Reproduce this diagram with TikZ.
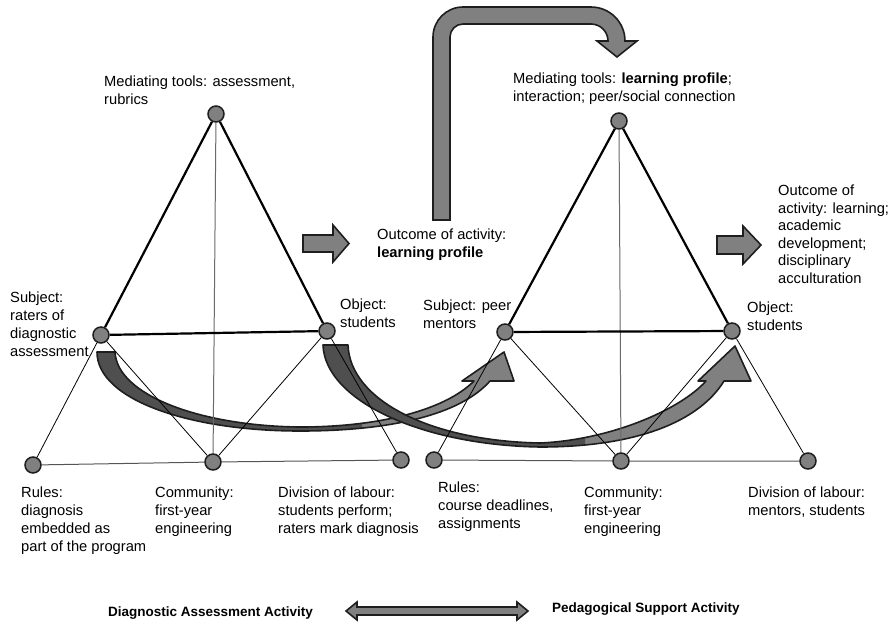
\documentclass[tikz,border=0pt]{standalone}
\usepackage{fontspec}
\setmainfont{Liberation Sans}
\usetikzlibrary{backgrounds}
\definecolor{fillgray}{HTML}{808080}
\definecolor{darkfill}{HTML}{4F4F4F}
\definecolor{ink}{HTML}{1E1E1E}
\definecolor{linegray}{HTML}{6A6A6A}
\newcommand\stack[1]{\begin{tabular}[t]{@{}l@{}}#1\end{tabular}}
\begin{document}
\begin{tikzpicture}[x=1pt,y=-1pt,
  vtx/.style={circle, draw=ink, line width=1.5pt, fill=fillgray, minimum size=16pt, inner sep=0pt},
  side/.style={line width=2.2pt, black},
  spoke/.style={line width=0.8pt, black},
  stem/.style={line width=1pt, linegray},
  base/.style={line width=1pt, linegray!80!black},
  lab/.style={anchor=base west, inner sep=0pt, font=\fontsize{14.7}{18}\selectfont},
  caption/.style={anchor=base west, inner sep=0pt, font=\fontsize{13.5}{16}\selectfont\bfseries},
  blockarrow/.style={fill=fillgray, draw=ink, line width=1.6pt, line join=miter},
  bandline/.style={draw=ink, line width=1.6pt, line join=round}]
\useasboundingbox (0,0) rectangle (894,622);

% activity system 1: diagnostic assessment
\node[vtx] (t1) at (216,114) {};
\node[vtx] (s1) at (101,335) {};
\node[vtx] (o1) at (327,331) {};
\node[vtx] (r1) at (33,465) {};
\node[vtx] (c1) at (213,462) {};
\node[vtx] (d1) at (401,460) {};

% activity system 2: pedagogical support
\node[vtx] (t2) at (619,121) {};
\node[vtx] (s2) at (505,332) {};
\node[vtx] (o2) at (732,331) {};
\node[vtx] (r2) at (434,460) {};
\node[vtx] (c2) at (621,461) {};
\node[vtx] (d2) at (808,461) {};

\begin{scope}[on background layer]
  % curved transfer arrow: subject to subject
  \fill[fillgray] (97,352) .. controls (97,400) and (190,431) .. (300,431) .. controls (390,431) and (460,415) .. (490,381) -- (514,381) -- (504,352) -- (462,381) -- (474,381) .. controls (445,410) and (380,427) .. (300,427) .. controls (200,426) and (117,395) .. (115,352) -- cycle;
  \begin{scope}
    \clip (0,0) rectangle (362,622);
    \fill[darkfill] (97,352) .. controls (97,400) and (190,431) .. (300,431) .. controls (390,431) and (460,415) .. (490,381) -- (514,381) -- (504,352) -- (462,381) -- (474,381) .. controls (445,410) and (380,427) .. (300,427) .. controls (200,426) and (117,395) .. (115,352) -- cycle;
  \end{scope}
  \path[bandline] (97,352) .. controls (97,400) and (190,431) .. (300,431) .. controls (390,431) and (460,415) .. (490,381) -- (514,381) -- (504,352) -- (462,381) -- (474,381) .. controls (445,410) and (380,427) .. (300,427) .. controls (200,426) and (117,395) .. (115,352) -- cycle;

  % curved transfer arrow: object to object
  \fill[fillgray] (323,345) .. controls (325,400) and (420,445) .. (540,447) .. controls (640,447) and (700,420) .. (724,381) -- (751,381) -- (735,346) -- (698,381) -- (706,381) .. controls (680,410) and (610,440) .. (540,443) .. controls (430,441) and (350,400) .. (348,345) -- cycle;
  \begin{scope}
    \clip (0,0) rectangle (585,622);
    \fill[darkfill] (323,345) .. controls (325,400) and (420,445) .. (540,447) .. controls (640,447) and (700,420) .. (724,381) -- (751,381) -- (735,346) -- (698,381) -- (706,381) .. controls (680,410) and (610,440) .. (540,443) .. controls (430,441) and (350,400) .. (348,345) -- cycle;
  \end{scope}
  \path[bandline] (323,345) .. controls (325,400) and (420,445) .. (540,447) .. controls (640,447) and (700,420) .. (724,381) -- (751,381) -- (735,346) -- (698,381) -- (706,381) .. controls (680,410) and (610,440) .. (540,443) .. controls (430,441) and (350,400) .. (348,345) -- cycle;

  % triangle edges, system 1
  \draw[stem] (t1) -- (c1);
  \draw[spoke] (s1) -- (r1);
  \draw[spoke] (s1) -- (c1);
  \draw[spoke] (o1) -- (c1);
  \draw[spoke] (o1) -- (d1);
  \draw[base] (r1) -- (c1) -- (d1);
  \draw[side] (t1) -- (s1);
  \draw[side] (t1) -- (o1);
  \draw[side] (s1) -- (o1);

  % triangle edges, system 2
  \draw[stem] (t2) -- (c2);
  \draw[spoke] (s2) -- (r2);
  \draw[spoke] (s2) -- (c2);
  \draw[spoke] (o2) -- (c2);
  \draw[spoke] (o2) -- (d2);
  \draw[base] (r2) -- (c2) -- (d2);
  \draw[side] (t2) -- (s2);
  \draw[side] (t2) -- (o2);
  \draw[side] (s2) -- (o2);
\end{scope}

% outcome arrows
\path[blockarrow] (303,235) -- (333,235) -- (333,225) -- (349,243.5) -- (333,262) -- (333,252) -- (303,252) -- cycle;
\path[blockarrow] (717,236) -- (743,236) -- (743,226) -- (761,245) -- (743,264) -- (743,254) -- (717,254) -- cycle;

% bent arrow: learning profile becomes a mediating tool
\path[blockarrow] (433,220) -- (433,37) .. controls (433,20.43) and (446.43,7) .. (463,7) -- (591,7) .. controls (609.78,7) and (625,22.22) .. (625,41) -- (637,41) -- (617,57) -- (597,41) -- (608,41) .. controls (608,31.61) and (600.39,24) .. (591,24) -- (463,24) .. controls (455.82,24) and (450,29.82) .. (450,37) -- (450,220) -- cycle;

% double arrow between the two activities
\path[blockarrow] (346,611) -- (357,602) -- (357,607) -- (517,607) -- (517,602) -- (528,611) -- (517,620) -- (517,615) -- (357,615) -- (357,620) -- cycle;

% labels, system 1
\node[lab] (lt1) at (104,86.5) {\stack{Mediating tools: assessment,\\rubrics}};
\node[lab] (ls1) at (10,302.5) {\stack{Subject:\\raters of\\diagnostic\\assessment}};
\node[lab] (lo1) at (340,309.5) {\stack{Object:\\students}};
\node[lab] (lr1) at (21,497.5) {\stack{Rules:\\diagnosis\\embedded as\\part of the program}};
\node[lab] (lc1) at (155,497.5) {\stack{Community:\\first-year\\engineering}};
\node[lab] (ld1) at (278,497.5) {\stack{Division of labour:\\students perform;\\raters mark diagnosis}};
\node[lab] (lout1) at (377,239.5) {\stack{Outcome of activity:\\\textbf{learning profile}}};

% labels, system 2
\node[lab] (lt2) at (513,83.5) {\stack{Mediating tools: \textbf{learning profile};\\interaction; peer/social connection}};
\node[lab] (ls2) at (423,310.5) {\stack{Subject: peer\\mentors}};
\node[lab] (lo2) at (747,312.5) {\stack{Object:\\students}};
\node[lab] (lr2) at (438,492.5) {\stack{Rules:\\course deadlines,\\assignments}};
\node[lab] (lc2) at (584,497.5) {\stack{Community:\\first-year\\engineering}};
\node[lab] (ld2) at (748,497.5) {\stack{Division of labour:\\mentors, students}};
\node[lab, font=\fontsize{14.7}{17.5}\selectfont] (lout2) at (778,195.5) {\stack{Outcome of\\activity: learning;\\academic\\development;\\disciplinary\\acculturation}};

% captions
\node[caption] (cap1) at (108,616) {Diagnostic Assessment Activity};
\node[caption] (cap2) at (552,612) {Pedagogical Support Activity};
\end{tikzpicture}
\end{document}
